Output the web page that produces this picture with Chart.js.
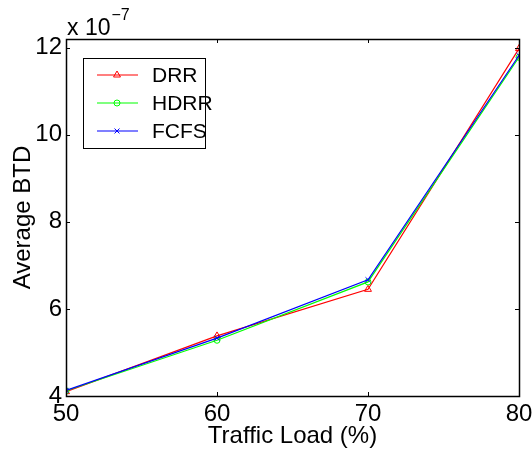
<!DOCTYPE html>
<html>
<head>
<meta charset="utf-8">
<script src="https://cdn.jsdelivr.net/npm/chart.js@4/dist/chart.umd.min.js"></script>
<style>
  html, body { margin: 0; padding: 0; background: #fff; }
  #wrap { width: 532px; height: 450px; }
</style>
</head>
<body>
<div id="wrap"><canvas id="c" width="532" height="450"></canvas></div>
<script>
// Traffic load (%) on the x axis
const loads = [50, 60, 70, 80];
// Average BTD, in units of 1e-7
const drr  = [4.10, 5.38, 6.45, 11.98];
const hdrr = [4.12, 5.28, 6.62, 11.78];
const fcfs = [4.13, 5.33, 6.67, 11.82];
const xTicks = [50, 60, 70, 80];
const yTicks = [4, 6, 8, 10, 12];
const seriesNames = ['DRR', 'HDRR', 'FCFS'];
const seriesColors = ['#ff0000', '#00ff00', '#0000ff'];
const seriesMarkers = ['triangle', 'circle', 'crossRot'];
const markerSizes = [4, 3, 3.5];

const FONT = 'Liberation Sans, Arial, Helvetica, sans-serif';
const tickFont = { family: FONT, size: 24, lineHeight: 1.1 };

const toPoints = vals => loads.map((x, i) => ({ x: x, y: vals[i] }));

// white page behind the plot
const background = {
  id: 'background',
  beforeDraw(chart) {
    const ctx = chart.ctx;
    ctx.save();
    ctx.fillStyle = '#fff';
    ctx.fillRect(0, 0, chart.width, chart.height);
    ctx.restore();
  }
};

// axes box with inward ticks, exponent note and the legend
const frame = {
  id: 'frame',
  afterDraw(chart) {
    const ctx = chart.ctx;
    const a = chart.chartArea;
    const xs = chart.scales.x, ys = chart.scales.y;
    const tl = 4;
    ctx.save();
    ctx.strokeStyle = '#000';
    ctx.lineWidth = 1;
    ctx.beginPath();
    xTicks.forEach(v => {
      const px = Math.round(xs.getPixelForValue(v)) + 0.5;
      ctx.moveTo(px, a.bottom); ctx.lineTo(px, a.bottom - tl);
      ctx.moveTo(px, a.top); ctx.lineTo(px, a.top + tl);
    });
    yTicks.forEach(v => {
      const py = Math.round(ys.getPixelForValue(v)) + 0.5;
      ctx.moveTo(a.left, py); ctx.lineTo(a.left + tl, py);
      ctx.moveTo(a.right, py); ctx.lineTo(a.right - tl, py);
    });
    ctx.stroke();
    ctx.lineWidth = 1.5;
    ctx.strokeRect(Math.round(a.left) + 0.5, Math.round(a.top) + 0.5,
                   Math.round(a.right - a.left), Math.round(a.bottom - a.top));

    // scale factor note
    ctx.fillStyle = '#000';
    ctx.textBaseline = 'alphabetic';
    ctx.textAlign = 'left';
    ctx.font = '23px ' + FONT;
    ctx.fillText('x 10', a.left + 1, 35);
    const w = ctx.measureText('x 10').width;
    ctx.font = '16px ' + FONT;
    ctx.fillText('\u22127', a.left + 1 + w + 1, 20);

    // legend
    const lx = 83.5, ly = 58.5, lw = 122, lh = 90;
    ctx.fillStyle = '#fff';
    ctx.fillRect(lx, ly, lw, lh);
    ctx.lineWidth = 1;
    ctx.strokeStyle = '#000';
    ctx.strokeRect(lx, ly, lw, lh);
    const rows = [75, 103, 131];
    seriesNames.forEach((name, i) => {
      const y = rows[i];
      ctx.strokeStyle = seriesColors[i];
      ctx.lineWidth = 1.2;
      ctx.beginPath();
      ctx.moveTo(97, y); ctx.lineTo(138, y);
      ctx.stroke();
      ctx.lineWidth = 1;
      ctx.fillStyle = 'rgba(0,0,0,0)';
      ctx.strokeStyle = seriesColors[i];
      Chart.helpers.drawPoint(ctx, {
        pointStyle: seriesMarkers[i], radius: markerSizes[i],
        borderWidth: 1, rotation: 0
      }, 117, y);
      ctx.fillStyle = '#000';
      ctx.font = '21px ' + FONT;
      ctx.textBaseline = 'middle';
      ctx.fillText(name, 152, rows[i] + 1);
    });
    ctx.restore();
  }
};

const makeSet = (i, vals, order) => ({
  label: seriesNames[i],
  data: toPoints(vals),
  borderColor: seriesColors[i],
  backgroundColor: seriesColors[i],
  borderWidth: 1.2,
  pointStyle: seriesMarkers[i],
  pointRadius: markerSizes[i],
  pointBorderColor: seriesColors[i],
  pointBackgroundColor: 'rgba(0,0,0,0)',
  pointBorderWidth: 1,
  tension: 0,
  fill: false,
  order: order
});

new Chart(document.getElementById('c'), {
  type: 'line',
  data: {
    datasets: [
      makeSet(0, drr, 2),
      makeSet(1, hdrr, 1),
      makeSet(2, fcfs, 0)
    ]
  },
  options: {
    responsive: false,
    animation: false,
    devicePixelRatio: 1,
    layout: { padding: { top: 39, right: 13, left: 0, bottom: 0 } },
    plugins: { legend: { display: false }, tooltip: { enabled: false } },
    scales: {
      x: {
        type: 'linear',
        min: 50, max: 80,
        afterBuildTicks: s => { s.ticks = xTicks.map(v => ({ value: v })); },
        afterFit: s => { s.height = 54; s.paddingLeft = 0; s.paddingRight = 0; },
        grid: { display: false, drawTicks: false },
        border: { display: false },
        ticks: { font: tickFont, color: '#000', padding: 5, maxRotation: 0, autoSkip: false },
        title: { display: true, text: 'Traffic Load (%)', font: tickFont, color: '#000', padding: { top: 0, bottom: 0 } }
      },
      y: {
        min: 4, max: 12.2,
        afterBuildTicks: s => { s.ticks = yTicks.map(v => ({ value: v })); },
        afterFit: s => { s.width = 66; s.paddingTop = 0; s.paddingBottom = 0; },
        grid: { display: false, drawTicks: false },
        border: { display: false },
        ticks: { font: tickFont, color: '#000', padding: 4, autoSkip: false },
        title: { display: true, text: 'Average BTD', font: tickFont, color: '#000', padding: { top: 10, bottom: 0 } }
      }
    }
  },
  plugins: [background, frame]
});
</script>
</body>
</html>
